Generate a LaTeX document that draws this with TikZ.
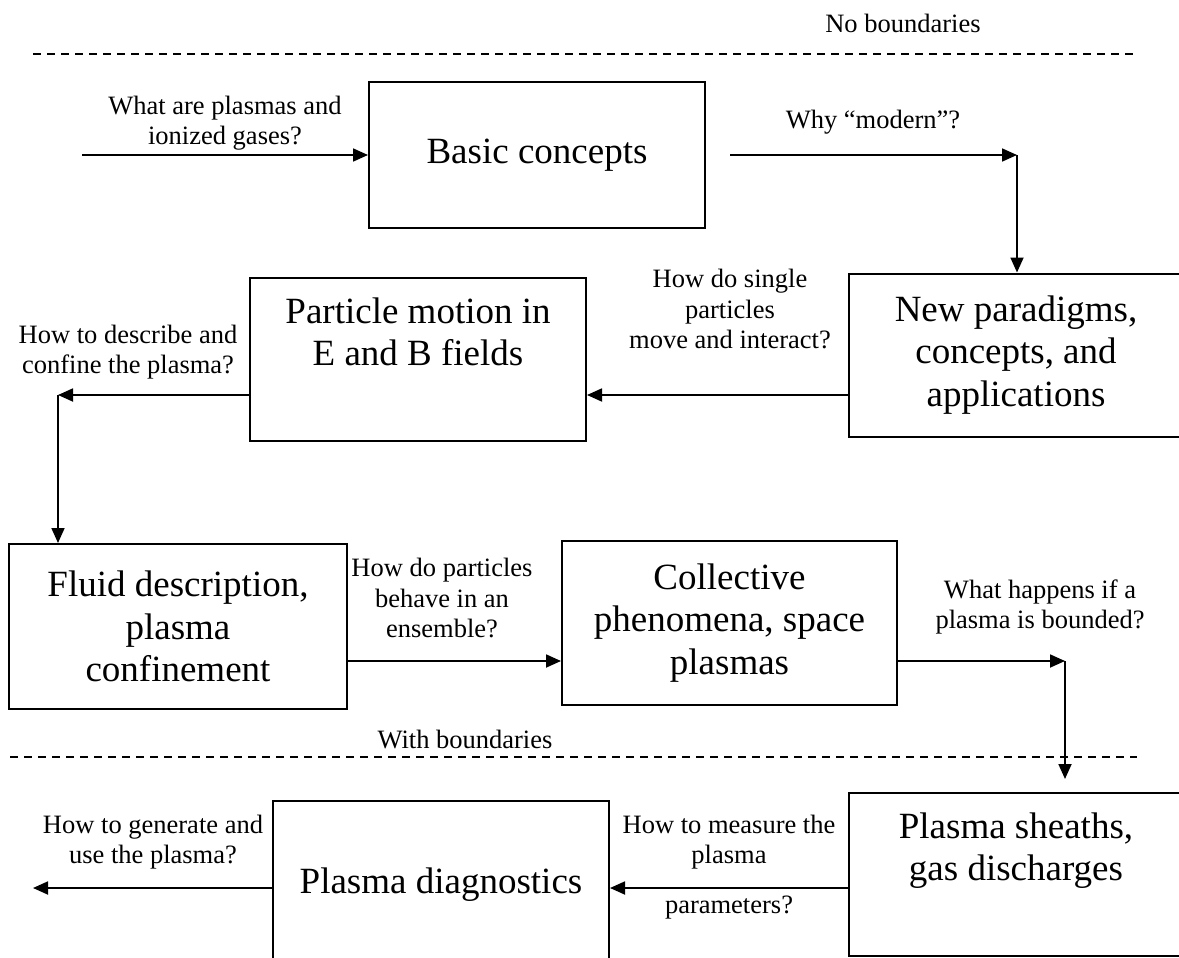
\documentclass[tikz,border=0pt]{standalone}
\usepackage{fontspec}
\setmainfont{Liberation Serif}
\usetikzlibrary{arrows.meta}

\newcommand{\stagefont}{\fontsize{37}{42.5}\selectfont}
\newcommand{\questionfont}{\fontsize{26.5}{30.5}\selectfont}

\begin{document}
\begin{tikzpicture}[x=1pt,y=-1pt,line width=1.8pt,
  stage/.style={draw,line width=2pt,align=center,inner sep=0pt,font=\stagefont},
  question/.style={align=center,inner sep=0pt,font=\questionfont},
  divider/.style={line width=1.3pt,dash pattern=on 8pt off 6pt},
  >={Triangle[length=15pt,width=13pt]}]
\useasboundingbox (0,0) rectangle (1179,958);
\clip (0,0) rectangle (1179,958);

\node[stage,minimum width=336,minimum height=146] (basic) at (537,155) {Basic concepts};
\node[stage,minimum width=334,minimum height=163] (newpar) at (1016,355) {New paradigms,\\concepts, and\\applications};
\node[stage,minimum width=336,minimum height=163] (particle) at (418,359.5) {Particle motion in\\E and B fields\\\strut};
\node[stage,minimum width=338,minimum height=165] (fluid) at (178,626.5) {Fluid description,\\plasma\\confinement};
\node[stage,minimum width=335,minimum height=164] (collective) at (729.5,623) {Collective\\phenomena, space\\plasmas};
\node[stage,minimum width=334,minimum height=163] (sheaths) at (1016,874.5) {Plasma sheaths,\\gas discharges\\\strut};
\node[stage,minimum width=336,minimum height=168] (diag) at (441,885) {Plasma diagnostics};

\coordinate (start) at (82,155);
\coordinate (turn1) at (1017,155);
\coordinate (row2) at (0,395);
\coordinate (turn2) at (58,395);
\coordinate (turn3) at (1065,661);
\coordinate (exit) at (33,888);

\draw[->] (start) -- (basic.west);
\draw[->] ([xshift=24pt]basic.east) -- (turn1);
\draw[->] (turn1) -- (turn1 |- newpar.north);
\draw[->] (newpar.west |- row2) -- (particle.east |- row2);
\draw[->] (particle.west |- turn2) -- (turn2);
\draw[->] (turn2) -- (turn2 |- fluid.north);
\draw[->] (fluid.east |- turn3) -- (collective.west |- turn3);
\draw[->] (collective.east |- turn3) -- (turn3);
\draw[->,shorten >=13pt] (turn3) -- (turn3 |- sheaths.north);
\draw[->] (sheaths.west |- exit) -- (diag.east |- exit);
\draw[->] (diag.west |- exit) -- (exit);

\draw[divider] (33,54) -- (1133,54);
\draw[divider] (10,757) -- (1137,757);

\node[question] (nobound) at (903,23) {No boundaries};
\node[question] (withbound) at (465,740) {With boundaries};
\node[question] (qbasic) at (225,123) {What are plasmas and\\ionized gases?};
\node[question] (qmodern) at (873,122) {Why “modern”?};
\node[question] (qsingle) at (730,309) {How do single\\particles\\move and interact?};
\node[question] (qconfine) at (128,352) {How to describe and\\confine the plasma?};
\node[question] (qensemble) at (442,598) {How do particles\\behave in an\\ensemble?};
\node[question] (qbounded) at (1040,607) {What happens if a\\plasma is bounded?};
\node[question] (qmeasure) at (729,842) {How to measure the\\plasma};
\node[question] (qparam) at (729,908) {parameters?};
\node[question] (qgenerate) at (153,842) {How to generate and\\use the plasma?};
\end{tikzpicture}
\end{document}
